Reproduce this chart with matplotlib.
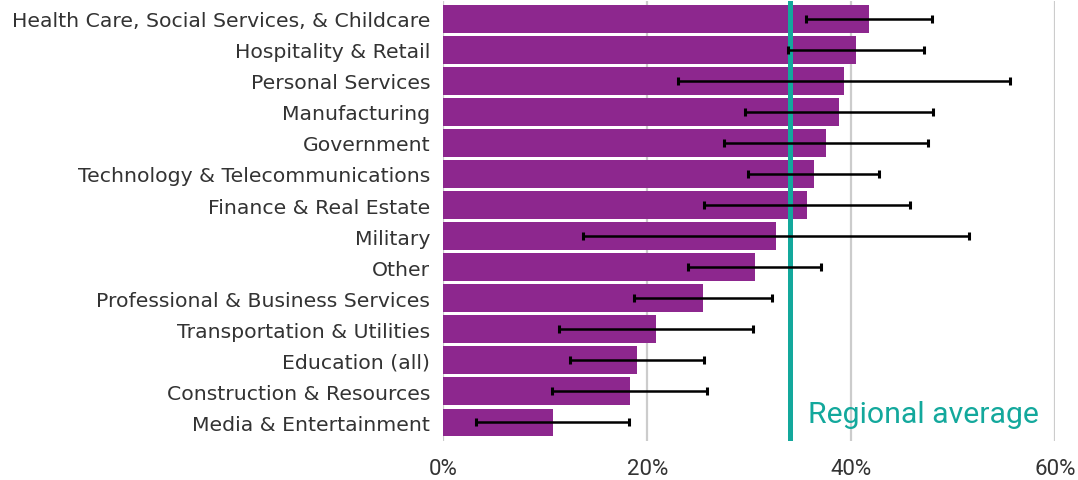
import numpy as np
import matplotlib
matplotlib.use("Agg")
import matplotlib.pyplot as plt

# data (percent)
sectors = ["Health Care, Social Services, & Childcare", "Hospitality & Retail",
           "Personal Services", "Manufacturing", "Government",
           "Technology & Telecommunications", "Finance & Real Estate", "Military",
           "Other", "Professional & Business Services", "Transportation & Utilities",
           "Education (all)", "Construction & Resources", "Media & Entertainment"]
share = [41.7, 40.5, 39.3, 38.8, 37.5, 36.3, 35.7, 32.6, 30.6, 25.5, 20.9, 19.0, 18.3, 10.8]
ci_low = [35.6, 33.8, 23.0, 29.6, 27.5, 29.9, 25.6, 13.7, 24.0, 18.7, 11.3, 12.4, 10.7, 3.2]
ci_high = [47.9, 47.1, 55.6, 48.0, 47.5, 42.7, 45.8, 51.5, 37.0, 32.2, 30.4, 25.6, 25.9, 18.2]
regional_avg = 34.0
xticks = [0, 20, 40, 60]

purple = "#8d278e"
teal = "#13a89c"
txt = "#333333"

fig = plt.figure(figsize=(10.78, 4.81), dpi=100)
ax = fig.add_axes([0.4112, 0.0811, 0.9789 - 0.4112, 0.9958 - 0.0811])

y = np.arange(len(sectors))
share = np.array(share)
err = [share - np.array(ci_low), np.array(ci_high) - share]

ax.barh(y, share, height=0.89, color=purple, zorder=2)
ax.axvline(regional_avg, color=teal, lw=3.6, zorder=3)
ax.errorbar(share, y, xerr=err, fmt="none", ecolor="black", elinewidth=1.8,
            capsize=2.8, capthick=2.2, zorder=4)

ax.set_xlim(0, 60)
ax.set_ylim(13.6, -0.57)
ax.set_xticks(xticks)
ax.set_xticklabels([f"{t}%" for t in xticks], family="Roboto", fontsize=16, color=txt)
ax.set_yticks(y)
ax.set_yticklabels(sectors, family="DejaVu Sans", fontsize=14.7, color=txt)
ax.tick_params(axis="both", length=0)
ax.tick_params(axis="x", pad=12)
ax.tick_params(axis="y", pad=9.5)
ax.grid(axis="x", color="#cccccc", lw=1.6, zorder=0)
ax.set_axisbelow(True)
for s in ax.spines.values():
    s.set_visible(False)

ax.text(35.75, 13.0, "Regional average", family="Roboto", fontsize=21.8,
        color=teal, va="baseline", ha="left", zorder=5)

fig.savefig("out.png", dpi=100)
